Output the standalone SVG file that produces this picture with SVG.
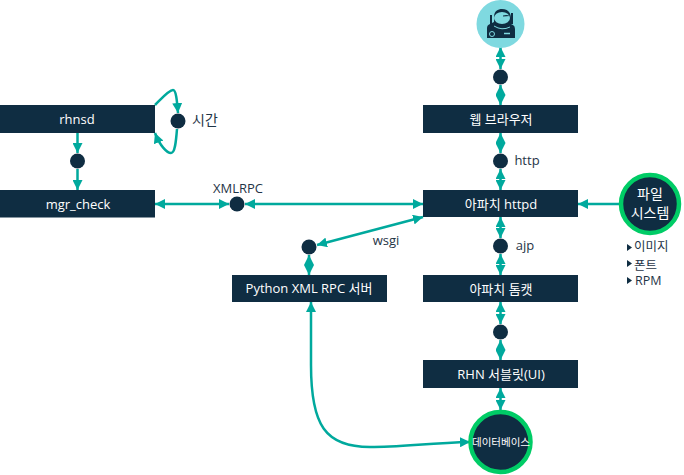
<svg xmlns="http://www.w3.org/2000/svg" width="684" height="475" viewBox="0 0 684 475">
<style>
text{font-family:"Open Sans","Noto Sans CJK KR",sans-serif;font-size:13px;text-anchor:middle}
.w{fill:#fff}
.d{fill:#1f3547}
.s{text-anchor:start;font-size:12.500px}
.b{fill:#0f2d42}
.c{fill:none;stroke:#00a99d;stroke-width:2.500}
.g{fill:#0f2d42;stroke:#00cc66;stroke-width:4.500}
.l{fill:#7fd9e0}
</style>
<defs>
<marker id="e" viewBox="0 0 10 10" refX="10" refY="5" markerWidth="10" markerHeight="10" markerUnits="userSpaceOnUse" orient="auto-start-reverse"><path d="M0 0L10 5L0 10Z" fill="#00a99d"/></marker>
</defs>
<g id="connectors">
<path class="c" d="M500.500 47V69" marker-start="url(#e)" marker-end="url(#e)"/>
<path class="c" d="M500.500 85V105" marker-start="url(#e)" marker-end="url(#e)"/>
<path class="c" d="M500.500 133V153" marker-start="url(#e)" marker-end="url(#e)"/>
<path class="c" d="M500.500 169V190" marker-start="url(#e)" marker-end="url(#e)"/>
<path class="c" d="M500.500 217V238" marker-start="url(#e)" marker-end="url(#e)"/>
<path class="c" d="M500.500 254V275" marker-start="url(#e)" marker-end="url(#e)"/>
<path class="c" d="M500.500 302V324" marker-start="url(#e)" marker-end="url(#e)"/>
<path class="c" d="M500.500 340V360" marker-start="url(#e)" marker-end="url(#e)"/>
<path class="c" d="M500.500 388V410" marker-start="url(#e)" marker-end="url(#e)"/>
<path class="c" d="M77.500 133V153" marker-end="url(#e)"/>
<path class="c" d="M77.500 169V190" marker-end="url(#e)"/>
<path class="c" d="M155 204H229" marker-start="url(#e)" marker-end="url(#e)"/>
<path class="c" d="M245 204H423" marker-start="url(#e)" marker-end="url(#e)"/>
<path class="c" d="M620 204H578" marker-end="url(#e)"/>
<path class="c" d="M317 245L423 217" marker-start="url(#e)" marker-end="url(#e)"/>
<path class="c" d="M309 255V275" marker-start="url(#e)" marker-end="url(#e)"/>
<path class="c" d="M155 105C162 98 169 90 173 90C176 90 177 100 178 113" marker-end="url(#e)"/>
<path class="c" d="M177 129C176 142 175 153 171 153C167 153 160 146 155 133" marker-end="url(#e)"/>
<path class="c" d="M311 302V365C311 425 325 447 370 447C400 447 430 443 470 442" marker-start="url(#e)" marker-end="url(#e)"/>
</g>
<g id="n-astronaut">
<circle class="l" cx="500.500" cy="24" r="24"/>
<path class="b" d="M487 38V28Q487 25 490 24L494 22V17C494 11 498 9 502 9C507 9 511 12 511 18V24L513 25Q515 26 515 29V38Z"/>
<path class="b" d="M490 15H492V26H490ZM511 13H513V24H511Z"/>
<ellipse class="l" cx="502" cy="18" rx="8" ry="6"/>
<path class="b" d="M503 15.500Q507 14.500 510 16L503 16.500Z"/>
<circle cx="492" cy="34" r="2.500" fill="none" stroke="#7fd9e0"/>
<path d="M504 33.500H510" stroke="#7fd9e0" stroke-width="1.500"/>
<path d="M494 26Q502 31 510 27" fill="none" stroke="#7fd9e0" stroke-width="1"/>
</g>
<g id="n-d1"><circle class="b" cx="500.500" cy="77" r="7.500"/></g>
<g id="n-web"><rect class="b" x="423" y="105" width="155" height="28"/><text class="w" x="501" y="124">웹 브라우저</text></g>
<g id="n-d2"><circle class="b" cx="500.500" cy="161" r="7.500"/><text class="d" x="527" y="165">http</text></g>
<g id="n-httpd"><rect class="b" x="423" y="190" width="155" height="27"/><text class="w" x="501" y="208.500">아파치 httpd</text></g>
<g id="n-d3"><circle class="b" cx="500.500" cy="246" r="7.500"/><text class="d" x="525" y="250">ajp</text></g>
<g id="n-tomcat"><rect class="b" x="423" y="275" width="155" height="27"/><text class="w" x="501" y="293.500">아파치 톰캣</text></g>
<g id="n-d4"><circle class="b" cx="500.500" cy="332" r="7.500"/></g>
<g id="n-servlet"><rect class="b" x="423" y="360" width="155" height="28"/><text class="w" x="501" y="379">RHN 서블릿(UI)</text></g>
<g id="n-db"><circle class="g" cx="500.500" cy="442" r="30"/><text class="w" x="501" y="446" style="font-size:10.500px">데이터베이스</text></g>
<g id="n-fs"><circle class="g" cx="650" cy="204" r="29"/><text class="w" x="650" y="199" style="font-size:14px">파일</text><text class="w" x="650" y="218" style="font-size:14px">시스템</text></g>
<g id="n-fslist">
<path class="b" d="M627 244L632 247.500L627 251Z"/><text class="d s" x="634" y="251">이미지</text>
<path class="b" d="M627 260L632 263.500L627 267Z"/><text class="d s" x="634" y="269.500">폰트</text>
<path class="b" d="M627 277L632 280.500L627 284Z"/><text class="d s" x="635" y="285">RPM</text>
</g>
<g id="n-rhnsd"><rect class="b" x="0" y="105" width="155" height="28"/><text class="w" x="77" y="124">rhnsd</text></g>
<g id="n-d5"><circle class="b" cx="77.500" cy="161" r="7.500"/></g>
<g id="n-mgr"><rect class="b" x="0" y="190" width="155" height="27.500"/><text class="w" x="78" y="209">mgr_check</text></g>
<g id="n-time"><circle class="b" cx="178" cy="121" r="7.500"/><text class="d" x="205" y="125" style="font-size:14px">시간</text></g>
<g id="n-xmlrpc"><circle class="b" cx="237" cy="204" r="7.500"/><text class="d" x="238" y="192.500">XMLRPC</text></g>
<g id="n-wsgi"><circle class="b" cx="309" cy="247" r="7.500"/><text class="d" x="386" y="245">wsgi</text></g>
<g id="n-python"><rect class="b" x="232" y="275" width="155" height="27"/><text class="w" x="309" y="293">Python XML RPC 서버</text></g>
</svg>
